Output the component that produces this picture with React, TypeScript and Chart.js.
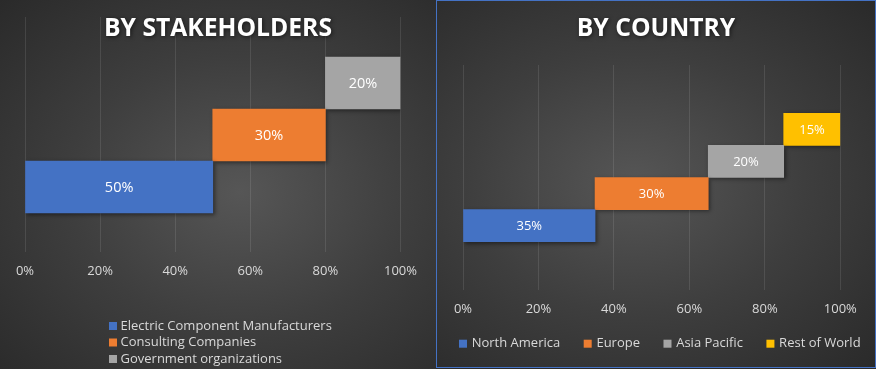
import React, { useEffect, useRef } from 'react';
import { Chart, registerables } from 'chart.js';

Chart.register(...registerables);

// ---- data ----
const stakeholderLabels = ['Electric Component Manufacturers', 'Consulting Companies', 'Government organizations'];
const stakeholderShares = [50, 30, 20];
const countryLabels = ['North America', 'Europe', 'Asia Pacific', 'Rest of World'];
const countryShares = [35, 30, 20, 15];
const axisTickValues = [0, 20, 40, 60, 80, 100];
const seriesColors = ['#4472C4', '#ED7D31', '#A5A5A5', '#FFC000'];

const FONT = "'Open Sans', 'Noto Sans', sans-serif";
const TEXT = '#d9d9d9';
const GRID = 'rgba(255,255,255,0.10)';

function buildDatasets(labels: string[], shares: number[]) {
  let start = 0;
  return labels.map((label, i) => {
    const end = start + shares[i];
    const ds: any = {
      label,
      data: [{ x: [start, end], y: i }],
      share: shares[i],
      backgroundColor: seriesColors[i],
      borderWidth: 0,
      grouped: false,
      barPercentage: 1,
      categoryPercentage: 1,
    };
    start = end;
    return ds;
  });
}

const titlePlugin = {
  id: 'panelTitle',
  afterDraw(chart: any, _args: any, opts: any) {
    const { ctx, width } = chart;
    ctx.save();
    ctx.font = `bold 24.7px ${FONT}`;
    ctx.fillStyle = '#ffffff';
    ctx.textAlign = 'center';
    ctx.textBaseline = 'middle';
    ctx.shadowColor = 'rgba(0,0,0,0.6)';
    ctx.shadowBlur = 4;
    ctx.shadowOffsetX = 1;
    ctx.shadowOffsetY = 1;
    ctx.fillText(opts.text, width / 2, opts.y);
    ctx.restore();
  },
};

const barShadowPlugin = {
  id: 'barShadow',
  beforeDatasetsDraw(chart: any) {
    const { ctx } = chart;
    ctx.save();
    ctx.shadowColor = 'rgba(0,0,0,0.45)';
    ctx.shadowBlur = 4;
    ctx.shadowOffsetX = 1.5;
    ctx.shadowOffsetY = 1.5;
  },
  afterDatasetsDraw(chart: any) {
    chart.ctx.restore();
  },
};

const valueLabelPlugin = {
  id: 'valueLabels',
  afterDatasetsDraw(chart: any, _args: any, opts: any) {
    const { ctx } = chart;
    ctx.save();
    ctx.font = `${opts.size}px ${FONT}`;
    ctx.fillStyle = '#ffffff';
    ctx.textAlign = 'center';
    ctx.textBaseline = 'middle';
    chart.data.datasets.forEach((ds: any, i: number) => {
      const meta = chart.getDatasetMeta(i);
      meta.data.forEach((el: any) => {
        const { x, base, y } = el.getProps(['x', 'base', 'y'], true);
        ctx.fillText(`${ds.share}%`, (x + base) / 2, y + 1);
      });
    });
    ctx.restore();
  },
};

// Legend drawn on the chart canvas, either stacked (one item per row) or in a single row.
const seriesLegendPlugin = {
  id: 'seriesLegend',
  afterDraw(chart: any, _args: any, opts: any) {
    if (!opts || !opts.display) return;
    const { ctx } = chart;
    ctx.save();
    ctx.font = `13px ${FONT}`;
    ctx.textBaseline = 'middle';
    ctx.textAlign = 'left';
    let x = opts.left;
    chart.data.datasets.forEach((ds: any, i: number) => {
      const y = opts.layout === 'row' ? opts.top : opts.top + i * opts.rowGap;
      const bx = opts.layout === 'row' ? x : opts.left;
      ctx.fillStyle = ds.backgroundColor;
      ctx.fillRect(bx, y - 4, 8, 8);
      ctx.fillStyle = TEXT;
      ctx.fillText(ds.label, bx + 8 + opts.textGap, y);
      x = bx + 8 + opts.textGap + ctx.measureText(ds.label).width + (opts.itemGap || 0);
    });
    ctx.restore();
  },
};

function xScale(tickPadding: number) {
  return {
    type: 'linear',
    min: 0,
    max: 100,
    afterBuildTicks: (scale: any) => {
      scale.ticks = axisTickValues.map((v) => ({ value: v }));
    },
    grid: { color: GRID, drawTicks: false, lineWidth: 1 },
    border: { display: false },
    ticks: {
      color: TEXT,
      padding: tickPadding,
      maxRotation: 0,
      font: { family: FONT, size: 13, lineHeight: 1.2 },
      callback: (v: any) => `${v}%`,
    },
  };
}

function yScale(count: number, min: number, max: number) {
  return {
    type: 'linear',
    display: false,
    offset: false,
    min,
    max,
    afterBuildTicks: (scale: any) => {
      scale.ticks = Array.from({ length: count }, (_, i) => ({ value: i }));
    },
  };
}

function stakeholderConfig(): any {
  return {
    type: 'bar',
    data: { datasets: buildDatasets(stakeholderLabels, stakeholderShares) },
    plugins: [barShadowPlugin, valueLabelPlugin, titlePlugin, seriesLegendPlugin],
    options: {
      responsive: false,
      animation: false,
      indexAxis: 'y',
      layout: { padding: { left: 25, right: 35.5, top: 17, bottom: 77.6 } },
      scales: {
        x: xScale(11.9),
        y: yScale(stakeholderLabels.length, -1.25, 3.27),
      },
      plugins: {
        legend: { display: false },
        tooltip: { enabled: false },
        panelTitle: { text: 'BY STAKEHOLDERS', y: 29 },
        valueLabels: { size: 14.5 },
        seriesLegend: { display: true, layout: 'column', left: 109, top: 326, rowGap: 16.5, textGap: 3.5 },
      },
    },
  };
}

function countryConfig(): any {
  return {
    type: 'bar',
    data: { datasets: buildDatasets(countryLabels, countryShares) },
    plugins: [barShadowPlugin, valueLabelPlugin, titlePlugin, seriesLegendPlugin],
    options: {
      responsive: false,
      animation: false,
      indexAxis: 'y',
      layout: { padding: { left: 26, right: 34.7, top: 64, bottom: 39 } },
      scales: {
        x: xScale(11.2),
        y: yScale(countryLabels.length, -2, 5),
      },
      plugins: {
        legend: { display: false },
        tooltip: { enabled: false },
        panelTitle: { text: 'BY COUNTRY', y: 28 },
        valueLabels: { size: 13 },
        seriesLegend: { display: true, layout: 'row', left: 22, top: 342.7, textGap: 4.7, itemGap: 23.5 },
      },
    },
  };
}

function ChartCanvas({ makeConfig, width, height }: { makeConfig: () => any; width: number; height: number }) {
  const ref = useRef<HTMLCanvasElement | null>(null);
  useEffect(() => {
    if (!ref.current) return;
    const chart = new Chart(ref.current, makeConfig());
    return () => chart.destroy();
  }, []);
  return <canvas ref={ref} width={width} height={height} style={{ display: 'block', width, height }} />;
}

export default function App() {
  return (
    <div style={{ position: 'fixed', left: 0, top: 0, width: 876, height: 369, background: '#2b2b2b', overflow: 'hidden' }}>
      <div
        style={{
          position: 'absolute', left: 0, top: 0, width: 436, height: 369,
          background: 'radial-gradient(ellipse farthest-corner at 55% 52%, #565656 0%, #3e3e3e 50%, #2a2a2a 100%)',
        }}
      >
        <ChartCanvas makeConfig={stakeholderConfig} width={436} height={369} />
      </div>
      <div
        style={{
          position: 'absolute', left: 436, top: 0, width: 440, height: 368, boxSizing: 'border-box',
          border: '1px solid #4472C4',
          background: 'radial-gradient(ellipse farthest-corner at 45% 50%, #565656 0%, #3e3e3e 50%, #2a2a2a 100%)',
        }}
      >
        <ChartCanvas makeConfig={countryConfig} width={438} height={366} />
      </div>
    </div>
  );
}
